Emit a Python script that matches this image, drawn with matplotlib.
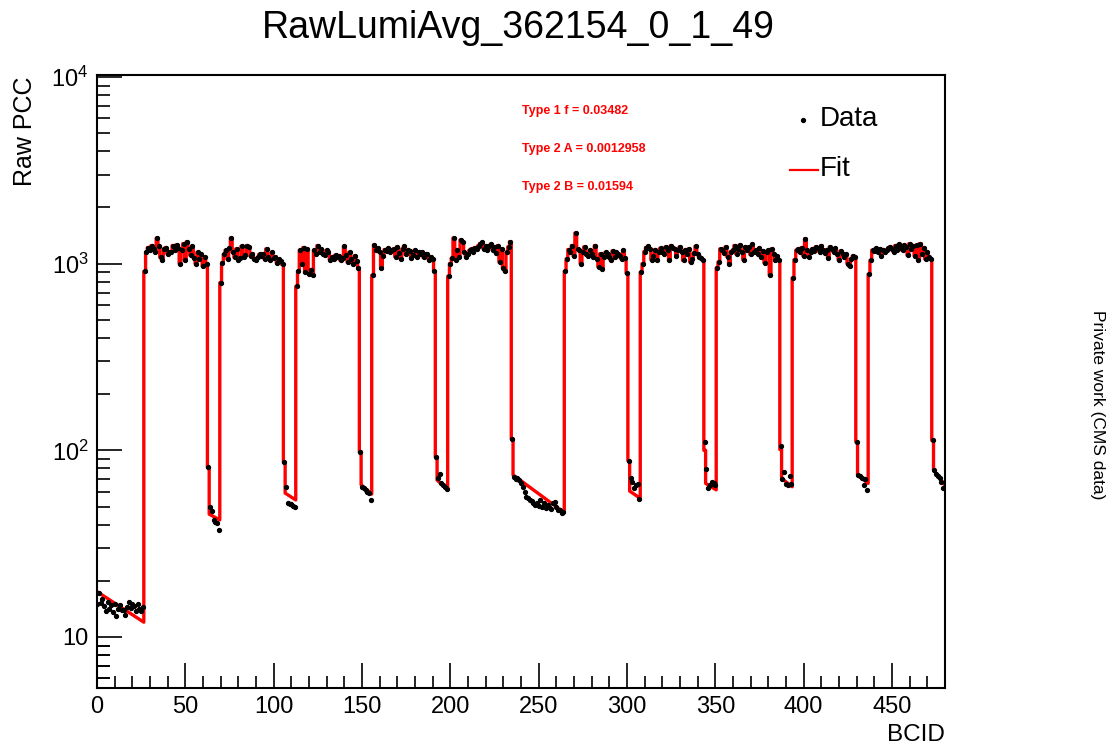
import numpy as np
import matplotlib
matplotlib.use("Agg")
import matplotlib.pyplot as plt
from matplotlib.ticker import FixedLocator, FixedFormatter, MultipleLocator, NullFormatter

plt.rcParams['font.family'] = ['Liberation Sans', 'DejaVu Sans']
plt.rcParams['mathtext.fontset'] = 'custom'
plt.rcParams['mathtext.rm'] = 'Liberation Sans'
plt.rcParams['mathtext.it'] = 'Liberation Sans:italic'

# raw PCC per BCID, in bunch-pattern order
lead_pcc = [15.0, 17.2, 15.2, 16.0, 14.6, 13.8, 15.4, 14.2, 14.8, 13.6, 15.1, 12.9, 14.2, 14.9,
            14.0, 13.9, 13.1, 14.5, 15.4, 14.3, 15.0, 14.7, 13.8, 15.1, 14.2, 13.7, 14.5]
train1 = [910, 1150, 1220, 1180, 1250, 1200, 1150, 1370, 1240, 1080, 1040, 1200, 1220, 1130, 1150, 1160, 1250, 1190,
          1260, 1210, 1000, 1180, 1280, 1050, 1310, 1200, 1110, 1240, 1070, 1000, 1150, 1060, 1120, 970, 1080, 1000]
gap1 = [81, 49.5, 47.5, 42.4, 41.5, 40.7, 37.4]
train2 = [790, 1010, 1120, 1180, 1060, 1210, 1370, 1150, 1080, 1200, 1050, 1070, 1240, 1090, 1110, 1250, 1230, 1100,
          1130, 1060, 1050, 1080, 1120, 1100, 1130, 1060, 1200, 1090, 1040, 1150, 1070, 1090, 1010, 1060, 1030, 990]
gap2 = [86.6, 63.8, 52.5, 51.5, 51.8, 50.5, 50.0]
train3 = [755, 910, 1180, 1000, 1220, 900, 1200, 880, 930, 870, 1180, 1120, 1250, 1160, 1200, 1130, 1110, 1180,
          1160, 1050, 1080, 1060, 1110, 1090, 1100, 1040, 1070, 1240, 1110, 1020, 1150, 1060, 1000, 1100, 1030, 950]
gap3 = [98.3, 64.0, 62.5, 61.0, 60.0, 58.8, 54.2]
train4 = [866, 1260, 1180, 1210, 1150, 950, 1100, 1190, 1170, 1210, 1150, 1180, 1200, 1090, 1230, 1140, 1060, 1200,
          1240, 1120, 1190, 1170, 1070, 1110, 1180, 1090, 1150, 1130, 1160, 1080, 1130, 1120, 1050, 1090, 1060, 910]
gap4 = [92.3, 70.8, 74.6, 66.7, 64.8, 63.4, 62.1]
train5 = [855, 1000, 1070, 1373, 1050, 1180, 1080, 1340, 1300, 1150, 1090, 1120, 1180, 1200, 1160, 1220, 1200, 1250,
          1280, 1300, 1200, 1250, 1180, 1240, 1270, 1190, 1230, 1140, 1250, 1020, 1200, 950, 910, 1150, 1230, 1310]
gap5 = [115, 72.3, 70.0, 71.0, 69.3, 66.5, 64.0, 60.0, 56.4, 55.3, 54.0, 53.2, 52.5, 51.0, 52.0,
        50.5, 54.2, 50.0, 52.0, 49.0, 51.0, 50.0, 48.5, 52.0, 53.0, 50.0, 47.7, 48.0, 46.4, 46.9]
train6 = [910, 1060, 1190, 1150, 1250, 1100, 1460, 1200, 1180, 1000, 1150, 1230, 1120, 1100, 1180, 1130, 1090, 1250,
          1060, 960, 1130, 940, 1090, 1150, 1120, 1080, 1040, 1170, 1090, 1150, 1130, 1100, 1060, 1180, 1070, 890]
gap6 = [88, 70.8, 68, 62.6, 65, 66, 55]
train7 = [900, 1000, 1160, 1220, 1240, 1200, 1050, 1100, 1190, 1040, 1160, 1210, 1150, 1130, 1230, 1190, 1040, 1250,
          1210, 1200, 1100, 1190, 1230, 1160, 1040, 1180, 1130, 1200, 1020, 1060, 1140, 1240, 1120, 1090, 1070, 1040]
gap7 = [111, 79.6, 63, 65, 67.9, 66.5, 64.8]
train8 = [950, 1020, 1200, 1180, 1140, 1230, 1090, 1000, 1160, 1180, 1250, 1130, 1200, 1260, 1150, 1050, 1230, 1180,
          1230, 1120, 1270, 1160, 1180, 1130, 1210, 1080, 1170, 1010, 1150, 1180, 870, 1200, 1130, 1050, 1100, 1040]
gap8 = [105, 70, 76.6, 66, 65, 72.5, 66]
train9 = [838, 1050, 1180, 1200, 1150, 1220, 1100, 1360, 1180, 1080, 1150, 1200, 1170, 1230, 1210, 1160, 1250, 1180,
          1140, 1190, 1070, 1230, 1200, 1160, 1210, 1130, 1050, 1170, 1130, 1080, 1120, 1000, 970, 1060, 1100, 1080]
gap9 = [111, 73.5, 72.5, 71, 65, 70, 61.4]
train10 = [878, 1040, 1180, 1170, 1210, 1150, 1200, 1100, 1190, 1160, 1180, 1210, 1230, 1200, 1160, 1250, 1190, 1270,
           1220, 1180, 1260, 1230, 1110, 1280, 1200, 1240, 1100, 1260, 1040, 1280, 1130, 1220, 1060, 1150, 1080, 1060]
gap10 = [113, 78, 75, 73, 71, 68, 63]

# afterglow model in the empty bunches: first, second and last bin of each gap
lead_fit = [17.5, 12.0]
gap_fit = [[81, 45.5, 42.4], [86.6, 59.0, 54.2], [98.3, 65.4, 58.3], [92.3, 69.3, 61.4],
           [115, 73.8, 46.4], [88, 60.5, 55.3], [100, 66.5, 61.4], [101, 70.8, 63.8],
           [111, 73.8, 66.5], [113, 78.4, 66.0]]

trains = [train1, train2, train3, train4, train5, train6, train7, train8, train9, train10]
gaps = [gap1, gap2, gap3, gap4, gap5, gap6, gap7, gap8, gap9, gap10]

# fit drawn histogram-like: flat over each filled bin, sloped through the gaps
pcc = list(lead_pcc)
fit_x = [0, len(lead_pcc) - 0.5]
fit_y = list(lead_fit)
for tr, gp, gf in zip(trains, gaps, gap_fit):
    start = len(pcc)
    for i, v in enumerate(tr):
        fit_x += [start + i - 0.5, start + i + 0.5]
        fit_y += [v, v]
    pcc += tr
    start = len(pcc)
    end = start + len(gp) - 1
    fit_x += [start - 0.5, start + 0.5, start + 0.5, end + 0.5]
    fit_y += [gf[0], gf[0], gf[1], gf[2]]
    pcc += gp
pcc = np.array(pcc)
bcid = np.arange(len(pcc))

fig = plt.figure(figsize=(11.18, 7.46), dpi=100)
ax = fig.add_axes([97 / 1118, 1 - 688 / 746, 848 / 1118, 613 / 746])

ax.plot(fit_x, fit_y, color='red', lw=2.4, zorder=2)
ax.plot(bcid, pcc, 'o', color='black', ms=2.8, zorder=3)

ax.set_yscale('log')
ax.set_xlim(0, 480)
ax.set_ylim(5.33, 10250)

ax.xaxis.set_major_locator(MultipleLocator(50))
ax.xaxis.set_minor_locator(MultipleLocator(10))
ax.yaxis.set_major_locator(FixedLocator([10, 100, 1000, 10000]))
ax.yaxis.set_major_formatter(FixedFormatter(['10', r'10$^{2}$', r'10$^{3}$', r'10$^{4}$']))
minors = [m * d for d in [1, 10, 100, 1000] for m in range(2, 10)] + [6, 7, 8, 9]
ax.yaxis.set_minor_locator(FixedLocator(minors))
ax.yaxis.set_minor_formatter(NullFormatter())

ax.tick_params(which='both', direction='in', top=False, right=False, width=1.2, labelsize=17, pad=6)
ax.tick_params(which='major', length=18)
ax.tick_params(which='minor', length=9)
for sp in ax.spines.values():
    sp.set_linewidth(1.5)

fig.text(518 / 1118, 1 - 28 / 746, 'RawLumiAvg_362154_0_1_49', ha='center', va='center', fontsize=27)
fig.text(25 / 1118, 1 - 77 / 746, 'Raw PCC', rotation=90, ha='center', va='top', fontsize=18)
fig.text(945 / 1118, 1 - 735 / 746, 'BCID', ha='right', va='center', fontsize=17.5)
fig.text(1097 / 1118, 1 - 405 / 746, 'Private work (CMS data)', rotation=-90,
         ha='center', va='center', fontsize=12.5)

for y, s in [(111, 'Type 1 f = 0.03482'), (149, 'Type 2 A = 0.0012958'), (187, 'Type 2 B = 0.01594')]:
    fig.text(522 / 1118, 1 - y / 746, s, color='red', fontweight='bold', fontsize=9, ha='left', va='center')

# legend drawn as plain markers and text
fig.lines.append(plt.Line2D([803 / 1118], [1 - 120 / 746], marker='o', color='black', ms=2.8,
                            transform=fig.transFigure, figure=fig))
fig.text(820 / 1118, 1 - 119 / 746, 'Data', fontsize=20, ha='left', va='center')
fig.lines.append(plt.Line2D([790 / 1118, 818 / 1118], [1 - 170 / 746, 1 - 170 / 746], color='red', lw=1.6,
                            transform=fig.transFigure, figure=fig))
fig.text(820 / 1118, 1 - 169 / 746, 'Fit', fontsize=20, ha='left', va='center')

fig.savefig('out.png', dpi=100)
